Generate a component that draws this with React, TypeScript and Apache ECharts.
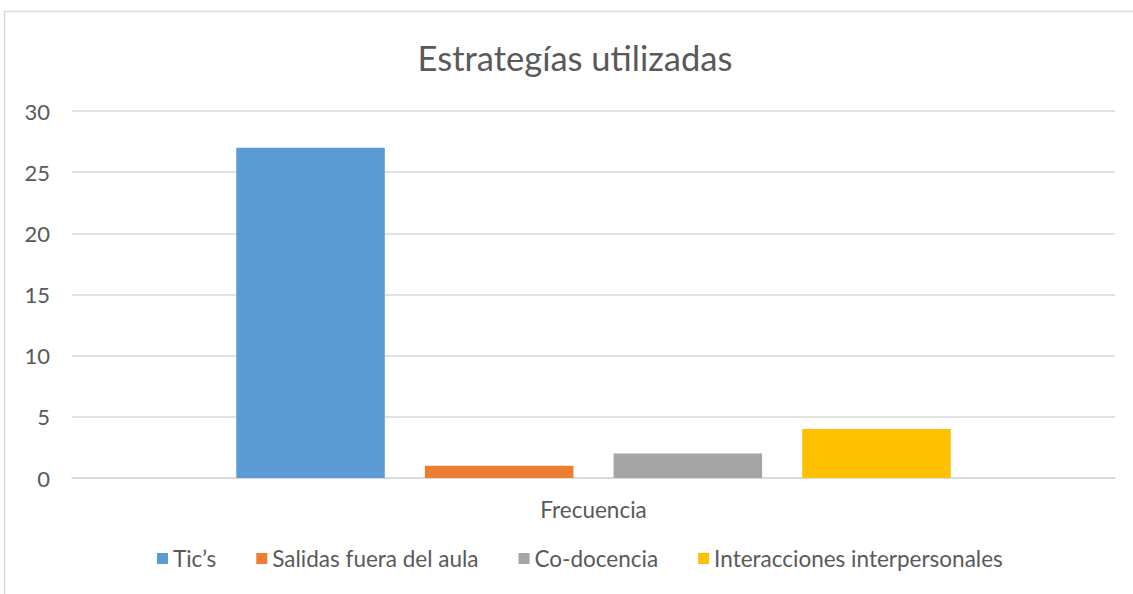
import React, { useEffect, useRef } from "react";
import * as echarts from "echarts";

const titleText = "Estrategías utilizadas";
const categories = ["Frecuencia"];
const seriesNames = ["Tic’s", "Salidas fuera del aula", "Co-docencia", "Interacciones interpersonales"];
const seriesValues = [[27], [1], [2], [4]];
const seriesColors = ["#5B9BD5", "#ED7D31", "#A5A5A5", "#FFC000"];
const yTicks = { min: 0, max: 30, interval: 5 };

const FONT = "Lato, 'Roboto', sans-serif";
const TXT = "#595959";

export default function App() {
  const ref = useRef<HTMLDivElement>(null);
  useEffect(() => {
    if (!ref.current) return;
    const chart = echarts.init(ref.current, undefined, { renderer: "svg" });
    chart.setOption({
      animation: false,
      backgroundColor: "#ffffff",
      textStyle: { fontFamily: FONT, color: TXT },
      title: {
        text: titleText,
        left: "center",
        top: 35,
        textStyle: { fontFamily: FONT, fontSize: 34.5, fontWeight: "normal", color: TXT },
      },
      graphic: [
        {
          type: "rect",
          shape: { x: 4.5, y: 11.5, width: 1140, height: 595 },
          style: { fill: "none", stroke: "#d9d9d9", lineWidth: 1.5 },
          silent: true,
          z: -1,
        },
      ],
      legend: {
        bottom: 35,
        left: 152,
        itemWidth: 11,
        itemHeight: 11,
        itemGap: 40,
        icon: "rect",
        textStyle: { fontFamily: FONT, fontSize: 22.5, color: TXT, padding: [0, 0, 0, 0] },
        data: seriesNames,
      },
      grid: { left: 72, right: 35, top: 111, bottom: 132, containLabel: false },
      xAxis: {
        type: "category",
        data: categories,
        axisLine: { lineStyle: { color: "#d9d9d9", width: 1.5 } },
        axisTick: { show: false },
        axisLabel: { fontFamily: FONT, fontSize: 22.5, color: TXT, margin: 20 },
      },
      yAxis: {
        type: "value",
        min: yTicks.min,
        max: yTicks.max,
        interval: yTicks.interval,
        axisLine: { show: false },
        axisTick: { show: false },
        splitLine: { lineStyle: { color: "#d9d9d9", width: 1.5 } },
        axisLabel: { fontFamily: FONT, fontSize: 22, color: TXT, margin: 22 },
      },
      series: seriesNames.map((name, i) => ({
        name,
        type: "bar",
        data: seriesValues[i],
        barGap: "27%",
        barCategoryGap: "31.5%",
        itemStyle: { color: seriesColors[i] },
      })),
    });
    return () => chart.dispose();
  }, []);
  return (
    <div
      ref={ref}
      style={{ position: "fixed", left: 0, top: 0, width: 1150, height: 610 }}
    />
  );
}
